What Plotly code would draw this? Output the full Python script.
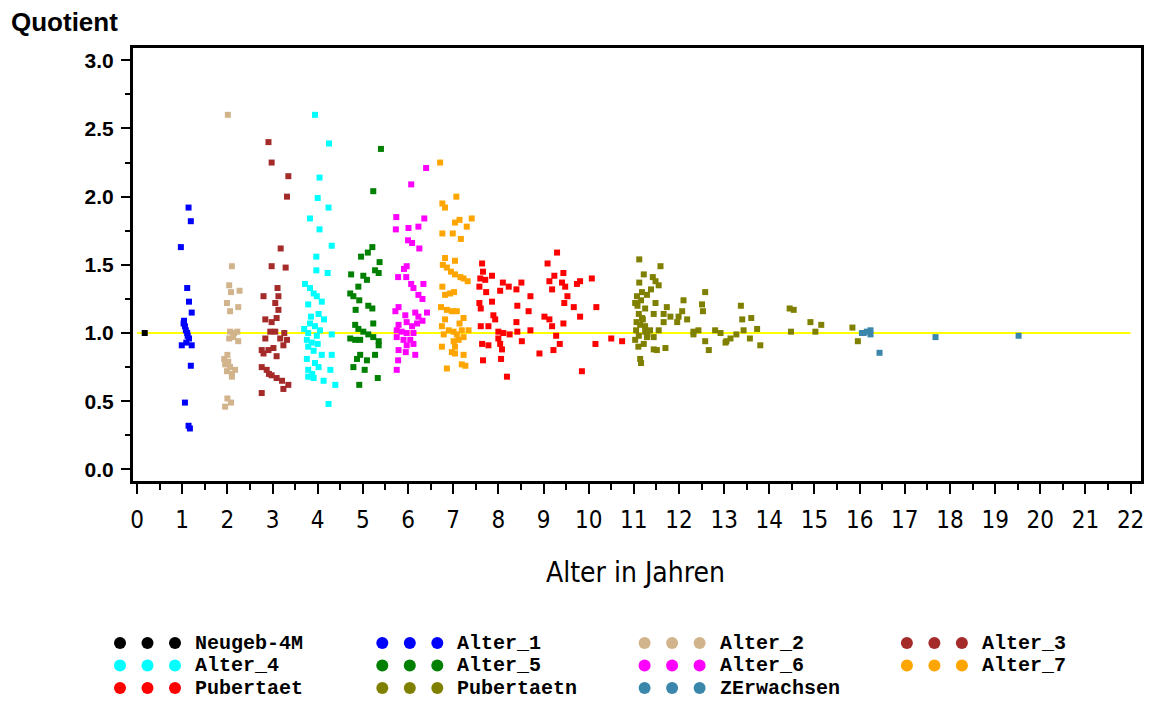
import plotly.graph_objects as go

# ---- data: age (years) and quotient per age group ----
groups = ["Neugeb-4M", "Alter_1", "Alter_2", "Alter_3", "Alter_4", "Alter_5",
          "Alter_6", "Alter_7", "Pubertaet", "Pubertaetn", "ZErwachsen"]
colors = ["#000000", "#0000FF", "#D2B48C", "#A52A2A", "#00FFFF", "#008000",
          "#FF00FF", "#FFA500", "#FF0000", "#808000", "#3B87AB"]

neugeb_x = [0.17]
neugeb_y = [1.00]

alter1_x = [1.14, 1.19, 0.97, 1.11, 1.15, 1.21, 1.04, 1.06, 1.11, 1.15, 0.99, 1.21,
            1.09, 1.08, 1.03, 1.12, 1.19, 1.06, 1.14, 1.17]
alter1_y = [1.92, 1.82, 1.63, 1.33, 1.23, 1.15, 1.09, 1.05, 1.00, 0.96, 0.91, 0.91,
            0.93, 1.02, 1.07, 0.98, 0.76, 0.49, 0.32, 0.30]

alter2_x = [2.01, 2.10, 2.04, 2.27, 2.08, 1.99, 2.24, 2.06, 2.06, 2.22, 2.13, 2.24,
            2.04, 2.15, 1.93, 2.02, 2.06, 2.17, 1.99, 2.10, 1.95, 2.00, 2.10, 2.00,
            2.08, 1.95]
alter2_y = [2.60, 1.49, 1.35, 1.31, 1.30, 1.22, 1.19, 1.16, 1.01, 1.01, 0.97, 0.94,
            0.96, 1.00, 0.81, 0.79, 0.75, 0.73, 0.72, 0.68, 0.77, 0.84, 0.70, 0.52,
            0.49, 0.46]

alter3_x = [2.91, 2.98, 3.35, 3.32, 3.18, 2.98, 3.29, 3.11, 2.80, 3.13, 3.06, 3.13,
            2.84, 2.98, 3.09, 2.95, 3.06, 2.84, 3.17, 3.24, 2.76, 2.91, 3.02, 2.80,
            3.09, 2.76, 2.87, 2.98, 3.09, 3.21, 3.35, 3.24, 2.76, 2.92, 3.26, 3.32]
alter3_y = [2.40, 2.25, 2.15, 2.00, 1.62, 1.49, 1.48, 1.33, 1.27, 1.27, 1.22, 1.17,
            1.10, 1.08, 1.11, 1.01, 1.01, 0.96, 0.96, 0.91, 0.875, 0.875, 0.89, 0.85,
            0.83, 0.75, 0.73, 0.69, 0.67, 0.65, 0.62, 0.59, 0.56, 0.70, 1.00, 0.95]

alter4_x = [3.94, 4.25, 4.04, 4.00, 4.24, 3.83, 4.04, 4.31, 3.97, 3.97, 4.22, 3.72,
            3.83, 3.91, 3.98, 4.09, 3.79, 4.02, 4.14, 3.83, 3.94, 4.05, 3.79, 3.98,
            3.76, 3.87, 4.31, 3.79, 3.91, 4.09, 4.31, 3.76, 3.94, 3.79, 4.02, 4.28,
            3.79, 3.91, 4.13, 4.39, 4.24, 3.85, 4.00, 3.70, 3.88]
alter4_y = [2.60, 2.39, 2.14, 1.99, 1.92, 1.84, 1.76, 1.64, 1.56, 1.46, 1.44, 1.36,
            1.33, 1.29, 1.27, 1.23, 1.21, 1.14, 1.10, 1.07, 1.05, 1.02, 1.00, 0.98,
            0.95, 0.93, 0.99, 0.90, 0.87, 0.84, 0.84, 0.81, 0.78, 0.73, 0.75, 0.73,
            0.68, 0.67, 0.65, 0.62, 0.48, 1.12, 0.92, 1.03, 0.70]

alter5_x = [5.40, 5.23, 5.21, 5.11, 4.96, 5.37, 4.74, 5.27, 5.01, 5.35, 5.09, 4.90,
            4.72, 4.79, 4.92, 5.12, 5.21, 4.84, 5.23, 4.83, 4.90, 5.01, 5.12, 5.23,
            5.35, 4.72, 4.83, 4.94, 5.35, 4.94, 5.09, 5.27, 4.87, 4.79, 5.04, 5.33,
            4.92]
alter5_y = [2.35, 2.04, 1.63, 1.59, 1.56, 1.52, 1.43, 1.46, 1.42, 1.44, 1.39, 1.34,
            1.29, 1.27, 1.24, 1.20, 1.18, 1.17, 1.07, 1.06, 1.03, 1.01, 0.99, 0.97,
            0.94, 0.96, 0.95, 0.95, 0.91, 0.84, 0.80, 0.84, 0.81, 0.75, 0.73, 0.67,
            0.62]

alter6_x = [6.40, 6.07, 5.74, 6.36, 5.73, 6.01, 6.23, 6.00, 6.09, 6.25, 5.97, 5.91,
            5.78, 5.96, 6.07, 6.34, 6.12, 6.23, 6.32, 5.79, 5.72, 5.94, 6.16, 6.42,
            6.23, 6.32, 5.79, 5.97, 6.09, 6.20, 5.75, 5.86, 5.97, 6.12, 5.75, 5.90,
            6.05, 5.97, 6.12, 5.79, 5.95, 6.16, 5.78, 5.75]
alter6_y = [2.21, 2.09, 1.85, 1.84, 1.76, 1.77, 1.78, 1.68, 1.66, 1.62, 1.49, 1.47,
            1.41, 1.41, 1.36, 1.36, 1.33, 1.28, 1.25, 1.19, 1.16, 1.13, 1.15, 1.15,
            1.12, 1.09, 1.06, 1.08, 1.05, 1.07, 1.02, 1.01, 1.00, 1.00, 0.97, 0.95,
            0.95, 0.91, 0.92, 0.875, 0.86, 0.84, 0.80, 0.73]

alter7_x = [6.71, 7.07, 6.76, 6.82, 7.14, 7.41, 7.04, 7.30, 6.76, 6.99, 7.17, 6.82,
            7.04, 6.77, 6.86, 6.95, 7.04, 7.16, 7.23, 7.32, 6.76, 6.82, 6.93, 7.02,
            6.73, 6.86, 6.97, 7.08, 7.23, 6.82, 7.14, 6.75, 6.90, 7.01, 7.19, 7.34,
            6.79, 7.08, 7.23, 7.01, 7.12, 6.75, 7.04, 6.97, 7.04, 7.23, 6.86, 7.19,
            7.27]
alter7_y = [2.25, 2.00, 1.95, 1.92, 1.83, 1.84, 1.81, 1.78, 1.73, 1.73, 1.69, 1.55,
            1.53, 1.50, 1.48, 1.45, 1.43, 1.41, 1.40, 1.38, 1.34, 1.28, 1.29, 1.30,
            1.19, 1.17, 1.16, 1.16, 1.11, 1.10, 1.07, 1.05, 1.02, 1.01, 1.02, 1.02,
            0.99, 0.99, 0.97, 0.94, 0.95, 0.90, 0.90, 0.86, 0.85, 0.84, 0.74, 0.77,
            0.76]

pub_x = [7.64, 7.66, 7.60, 7.71, 7.86, 8.10, 8.23, 8.51, 7.58, 7.73, 8.04, 8.40,
         8.71, 7.86, 7.58, 7.61, 8.42, 8.67, 7.89, 7.93, 8.40, 7.61, 7.78, 8.00,
         8.11, 8.25, 8.42, 8.71, 8.00, 8.04, 7.64, 7.78, 8.52, 8.08, 7.66, 8.06,
         8.19, 9.30, 9.09, 9.24, 9.44, 9.13, 9.41, 9.48, 9.19, 9.81, 9.74, 10.07,
         9.53, 9.46, 9.67, 10.17, 9.02, 9.13, 9.81, 9.19, 9.44, 9.28, 9.36, 9.22,
         10.15, 10.50, 10.74, 8.91, 9.85]
pub_y = [1.51, 1.45, 1.40, 1.39, 1.42, 1.37, 1.34, 1.37, 1.34, 1.30, 1.31, 1.32,
         1.27, 1.23, 1.22, 1.18, 1.20, 1.16, 1.13, 1.10, 1.08, 1.05, 1.05, 1.01,
         1.00, 0.99, 1.01, 1.02, 0.96, 0.92, 0.92, 0.91, 0.94, 0.88, 0.80, 0.81,
         0.68, 1.59, 1.51, 1.42, 1.44, 1.38, 1.37, 1.34, 1.32, 1.38, 1.36, 1.40,
         1.27, 1.22, 1.19, 1.19, 1.12, 1.10, 1.12, 1.05, 1.07, 0.98, 0.92, 0.875,
         0.92, 0.96, 0.94, 0.85, 0.72]

pubn_x = [11.12, 11.59, 11.22, 11.42, 11.12, 11.48, 11.55, 11.38, 11.29, 11.07,
          11.16, 12.58, 11.48, 12.10, 11.73, 12.51, 11.03, 11.25, 11.11, 11.44,
          11.66, 12.07, 12.53, 11.81, 11.18, 11.99, 12.18, 11.66, 11.96, 11.14,
          11.05, 11.36, 11.55, 11.25, 12.32, 12.43, 12.80, 11.11, 11.29, 11.44,
          12.92, 12.32, 11.03, 11.22, 12.58, 13.05, 11.44, 11.51, 11.70, 12.66,
          11.14, 11.16, 11.08, 11.18, 11.06, 11.25, 11.10, 11.20, 11.30,
          13.37, 13.40, 13.60, 14.45, 14.54, 14.91, 15.15, 13.43, 13.73, 14.48,
          15.02, 13.27, 13.14, 13.03, 13.57, 13.80, 15.84, 15.96]
pubn_y = [1.54, 1.49, 1.43, 1.41, 1.37, 1.38, 1.35, 1.32, 1.28, 1.27,
          1.24, 1.30, 1.22, 1.24, 1.19, 1.21, 1.22, 1.18, 1.14, 1.14,
          1.14, 1.16, 1.16, 1.12, 1.11, 1.12, 1.10, 1.08, 1.08, 1.06,
          1.02, 1.02, 1.02, 1.01, 1.01, 1.02, 1.02, 0.98, 0.97, 0.97,
          1.00, 0.99, 0.95, 0.92, 0.94, 0.94, 0.88, 0.875, 0.89, 0.875,
          0.81, 0.78, 1.20, 1.30, 1.08, 1.05, 0.90, 1.10, 0.99,
          1.20, 1.10, 1.11, 1.18, 1.17, 1.08, 1.06, 1.02, 1.03, 1.01,
          1.01, 0.99, 0.96, 0.93, 0.96, 0.91, 1.04, 0.94]

erw_x = [16.09, 16.16, 16.24, 16.05, 16.24, 16.44, 17.68, 19.52]
erw_y = [1.00, 1.01, 0.99, 1.00, 1.02, 0.855, 0.97, 0.98]

group_x = [neugeb_x, alter1_x, alter2_x, alter3_x, alter4_x, alter5_x,
           alter6_x, alter7_x, pub_x, pubn_x, erw_x]
group_y = [neugeb_y, alter1_y, alter2_y, alter3_y, alter4_y, alter5_y,
           alter6_y, alter7_y, pub_y, pubn_y, erw_y]

ref_x = [0, 22]
ref_y = [1.0, 1.0]

x_ticks = list(range(0, 23))
y_ticks = [0.0, 0.5, 1.0, 1.5, 2.0, 2.5, 3.0]

# ---- page geometry (pixels) ----
W, H = 1152, 704
plot_left, plot_right, plot_top, plot_bottom = 133, 1141, 48, 481

fig = go.Figure()

# reference line at quotient 1
fig.add_trace(go.Scatter(x=ref_x, y=ref_y, mode="lines",
                         line=dict(color="#FFFF00", width=2),
                         showlegend=False, hoverinfo="skip"))

for name, col, xs, ys in zip(groups, colors, group_x, group_y):
    fig.add_trace(go.Scatter(x=xs, y=ys, mode="markers", name=name,
                             marker=dict(symbol="square", size=6, color=col,
                                         line=dict(width=0)),
                             showlegend=False))

# ---- custom legend: three dots + label per group, 4 columns ----
leg_col0, leg_col_step = 120, 262.3
leg_row0, leg_row_step = 643, 22.5
dot_step, text_offset = 27.5, 73
for i, (name, col) in enumerate(zip(groups, colors)):
    c, r = i % 4, i // 4
    x0 = leg_col0 + c * leg_col_step
    yy = leg_row0 + r * leg_row_step
    fig.add_trace(go.Scatter(x=[x0 + k * dot_step for k in range(3)], y=[yy] * 3,
                             mode="markers", xaxis="x2", yaxis="y2",
                             marker=dict(symbol="circle", size=12, color=col,
                                         line=dict(width=0)),
                             showlegend=False, hoverinfo="skip"))
    fig.add_annotation(x=x0 + text_offset, y=yy, xref="x2", yref="y2",
                       text=name, showarrow=False, xanchor="left", yanchor="middle",
                       font=dict(family="Liberation Mono, DejaVu Sans Mono, monospace",
                                 size=20, color="black", weight="bold"))

dom_x = [plot_left / W, plot_right / W]
dom_y = [1 - plot_bottom / H, 1 - plot_top / H]

narrow = "Liberation Sans Narrow, DejaVu Sans Condensed, Arial Narrow, sans-serif"

fig.update_layout(
    width=W, height=H,
    margin=dict(l=0, r=0, t=0, b=0),
    paper_bgcolor="white", plot_bgcolor="white",
    template="none",
    showlegend=False,
    xaxis=dict(domain=dom_x, range=[-0.09, 22.23], tickvals=x_ticks,
               ticktext=[str(v) for v in x_ticks],
               showgrid=False, zeroline=False, automargin=False,
               showline=True, linecolor="black", linewidth=3, mirror=True,
               ticks="outside", ticklen=10, tickwidth=2, tickcolor="black",
               minor=dict(ticks="outside", dtick=0.5, tick0=0, ticklen=6,
                          tickwidth=1.5, tickcolor="black", showgrid=False),
               tickfont=dict(family=narrow, size=24, color="black"),
               ticklabelstandoff=5),
    yaxis=dict(domain=dom_y, range=[-0.085, 3.09], tickvals=y_ticks,
               ticktext=[f"{v:.1f}" for v in y_ticks],
               showgrid=False, zeroline=False, automargin=False,
               showline=True, linecolor="black", linewidth=3, mirror=True,
               ticks="outside", ticklen=9, tickwidth=2, tickcolor="black",
               minor=dict(ticks="outside", dtick=0.25, tick0=0, ticklen=5,
                          tickwidth=1.5, tickcolor="black", showgrid=False),
               tickfont=dict(family="Liberation Sans, Arial, sans-serif", size=21,
                             color="black", weight="bold"),
               ticklabelstandoff=3),
    xaxis2=dict(domain=[0, 1], range=[0, W], visible=False, fixedrange=True,
                anchor="y2"),
    yaxis2=dict(domain=[0, 84 / H], range=[H, H - 84], visible=False,
                fixedrange=True, anchor="x2"),
)

fig.add_annotation(x=9 / W, y=1 - 22 / H, xref="paper", yref="paper",
                   text="Quotient", showarrow=False, xanchor="left", yanchor="middle",
                   font=dict(family="Liberation Sans, Arial, sans-serif", size=26,
                             color="black", weight="bold"))
fig.add_annotation(x=635 / W, y=1 - 572 / H, xref="paper", yref="paper",
                   text="Alter in Jahren", showarrow=False, xanchor="center",
                   yanchor="middle",
                   font=dict(family=narrow, size=28, color="black"))

fig.write_html("out.html", config={"displayModeBar": False})
